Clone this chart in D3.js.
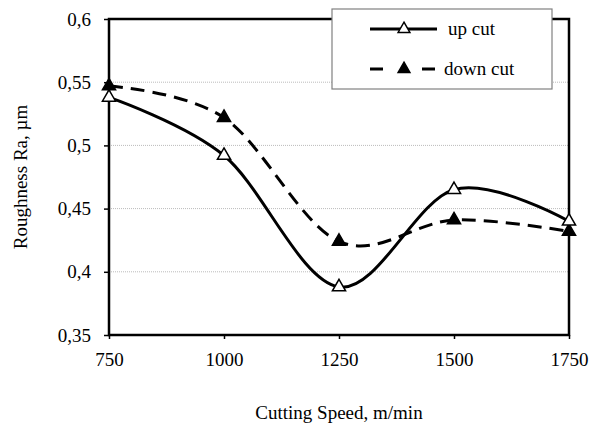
<!DOCTYPE html>
<html>
<head>
<meta charset="utf-8">
<script src="https://cdn.jsdelivr.net/npm/d3@7"></script>
</head>
<body style="margin:0; background:#fff">
<svg id="chart" width="601" height="430"></svg>
<script>
// Chart data
const speeds = [750, 1000, 1250, 1500, 1750];
const upCut = [0.538, 0.492, 0.388, 0.465, 0.440];
const downCut = [0.547, 0.522, 0.424, 0.441, 0.432];
const yTicks = [0.35, 0.4, 0.45, 0.5, 0.55, 0.6];
const seriesNames = ["up cut", "down cut"];

const FONT = "Liberation Serif";
const FS = 19;
const svg = d3.select("#chart");
const margin = { left: 109, right: 32, top: 19, bottom: 95 };
const W = 601, H = 430;

const x = d3.scaleLinear().domain([750, 1750]).range([margin.left, W - margin.right]);
const y = d3.scaleLinear().domain([0.35, 0.6]).range([H - margin.bottom, margin.top]);

const fmt = d => String(d).replace(".", ",");

// Gridlines
svg.append("g")
  .selectAll("line")
  .data(yTicks.slice(1, -1))
  .enter()
  .append("line")
  .attr("x1", x(750))
  .attr("x2", x(1750))
  .attr("y1", d => y(d))
  .attr("y2", d => y(d))
  .attr("stroke", "#bbb")
  .attr("stroke-width", 1)
  .attr("stroke-dasharray", "1,1");

// Plot frame
svg.append("rect")
  .attr("x", x(750))
  .attr("y", y(0.6))
  .attr("width", x(1750) - x(750))
  .attr("height", y(0.35) - y(0.6))
  .attr("fill", "none")
  .attr("stroke", "#000")
  .attr("stroke-width", 2.5);

// Axes
const yAxis = svg.append("g")
  .attr("transform", `translate(${x(750)},0)`)
  .call(d3.axisLeft(y).tickValues(yTicks).tickFormat(fmt).tickSize(5).tickPadding(13));
const xAxis = svg.append("g")
  .attr("transform", `translate(0,${y(0.35)})`)
  .call(d3.axisBottom(x).tickValues(speeds).tickFormat(d => String(d)).tickSize(4).tickPadding(14));

[yAxis, xAxis].forEach(a => {
  a.attr("font-family", FONT).attr("font-size", FS);
  a.select(".domain").remove();
  a.selectAll(".tick line").attr("stroke", "#000").attr("stroke-width", 1.5);
  a.selectAll(".tick text").attr("fill", "#000");
});

// Axis titles
svg.append("text")
  .attr("transform", `translate(20,${(y(0.35) + y(0.6)) / 2}) rotate(-90)`)
  .attr("text-anchor", "middle")
  .attr("font-family", FONT)
  .attr("font-size", FS)
  .attr("dy", "0.35em")
  .text("Roughness Ra, µm");

svg.append("text")
  .attr("x", (x(750) + x(1750)) / 2)
  .attr("y", 419)
  .attr("text-anchor", "middle")
  .attr("font-family", FONT)
  .attr("font-size", FS)
  .text("Cutting Speed, m/min");

// Lines
const line = d3.line()
  .x(d => x(d[0]))
  .y(d => y(d[1]))
  .curve(d3.curveCardinal.tension(0));

const tri = d3.symbol().type(d3.symbolTriangle).size(75);

function drawSeries(values, dash, fill) {
  const pts = speeds.map((s, i) => [s, values[i]]);
  svg.append("path")
    .datum(pts)
    .attr("d", line)
    .attr("fill", "none")
    .attr("stroke", "#000")
    .attr("stroke-width", 3)
    .attr("stroke-dasharray", dash);
  svg.append("g")
    .selectAll("path")
    .data(pts)
    .enter()
    .append("path")
    .attr("d", tri)
    .attr("transform", d => `translate(${x(d[0])},${y(d[1])})`)
    .attr("fill", fill)
    .attr("stroke", "#000")
    .attr("stroke-width", 1.5);
}

drawSeries(downCut, "14,8", "#000");
drawSeries(upCut, null, "#fff");

// Legend
const legend = svg.append("g");
legend.append("rect")
  .attr("x", 332)
  .attr("y", 9)
  .attr("width", 220)
  .attr("height", 80)
  .attr("fill", "#fff")
  .attr("stroke", "#808080")
  .attr("stroke-width", 1.2);

const legendRows = [
  { name: seriesNames[0], ly: 29, dash: null, fill: "#fff", tx: 448 },
  { name: seriesNames[1], ly: 69, dash: "13,39", fill: "#000", tx: 444 },
];
legendRows.forEach(r => {
  legend.append("line")
    .attr("x1", 370).attr("x2", 437)
    .attr("y1", r.ly).attr("y2", r.ly)
    .attr("stroke", "#000")
    .attr("stroke-width", 3)
    .attr("stroke-dasharray", r.dash);
  legend.append("path")
    .attr("d", d3.symbol().type(d3.symbolTriangle).size(60))
    .attr("transform", `translate(404,${r.ly})`)
    .attr("fill", r.fill)
    .attr("stroke", "#000")
    .attr("stroke-width", 1.5);
  legend.append("text")
    .attr("x", r.tx)
    .attr("y", r.ly)
    .attr("dy", "0.33em")
    .attr("font-family", FONT)
    .attr("font-size", FS)
    .text(r.name);
});
</script>
</body>
</html>
